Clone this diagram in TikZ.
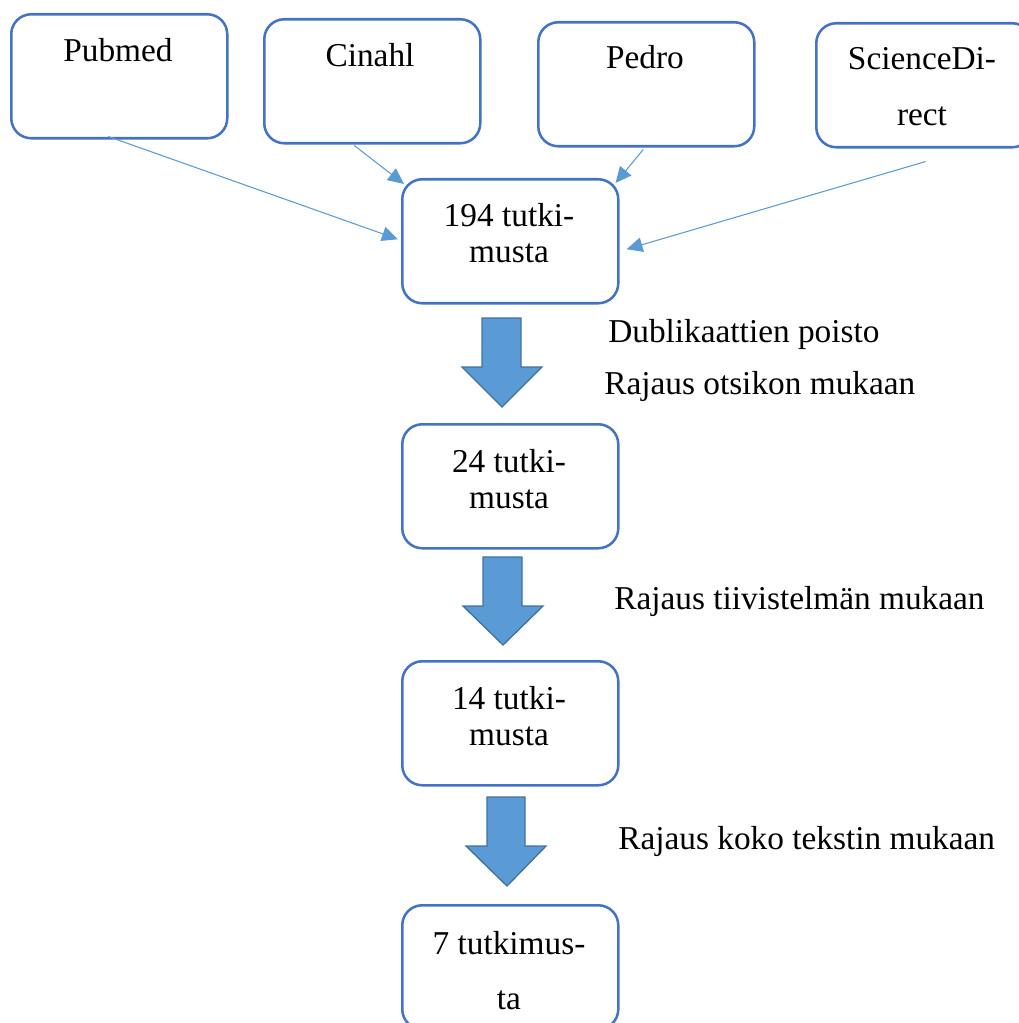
\documentclass[tikz,border=0pt]{standalone}
\usepackage{fontspec}
\setmainfont{Liberation Serif}
\usetikzlibrary{arrows.meta,calc}
\definecolor{boxblue}{HTML}{4472C4}
\definecolor{lineblue}{HTML}{5B9BD5}
\definecolor{arrowedge}{HTML}{41719C}
\begin{document}
\begin{tikzpicture}[x=0.75pt,y=-0.75pt,
  box/.style={draw=boxblue, line width=1.9pt, rounded corners=15pt, minimum width=162pt, minimum height=93pt, inner sep=0pt, anchor=north west},
  txt/.style={font=\fontsize{25}{30}\selectfont, anchor=base, inner sep=0pt},
  lbl/.style={font=\fontsize{25}{30}\selectfont, anchor=base west, inner sep=0pt},
  conn/.style={draw=lineblue, line width=0.8pt, -{Triangle[length=12pt,width=11pt]}},
  barrow/.style={fill=lineblue, draw=arrowedge, line width=1pt, line join=miter}]
\useasboundingbox (0,0) rectangle (1019,1023);
\begin{scope}
\clip (0,0) rectangle (1019,1023);
% boxes
\node[box] (pub) at (10,13) {};
\node[box] (cin) at (263,18) {};
\node[box] (ped) at (537,21) {};
\node[box] (sd) at (815,22) {};
\node[box] (b194) at (401,178) {};
\node[box] (b24) at (401,423) {};
\node[box] (b14) at (401,660) {};
\node[box] (b7) at (401,904) {};
% box texts
\node[txt] (tpub) at (118,62) {Pubmed};
\node[txt] (tcin) at (370,67) {Cinahl};
\node[txt] (tped) at (645,69) {Pedro};
\node[txt] (tsda) at (922,70) {ScienceDi-};
\node[txt] (tsdb) at (922,126) {rect};
\node[txt] (t194a) at (509,227) {194 tutki-};
\node[txt] (t194b) at (509,263) {musta};
\node[txt] (t24a) at (509,472) {24 tutki-};
\node[txt] (t24b) at (509,508) {musta};
\node[txt] (t14a) at (509,709) {14 tutki-};
\node[txt] (t14b) at (509,745) {musta};
\node[txt] (t7a) at (509,954) {7 tutkimus-};
\node[txt] (t7b) at (509,1009) {ta};
% side labels
\node[lbl] (l1) at (608,342) {Dublikaattien poisto};
\node[lbl] (l2) at (604,394) {Rajaus otsikon mukaan};
\node[lbl] (l3) at (614,609) {Rajaus tiivistelmän mukaan};
\node[lbl] (l4) at (618,849) {Rajaus koko tekstin mukaan};
% connectors
\draw[conn] ([xshift=-8.25pt,yshift=2.25pt]pub.south) -- ([xshift=-2.25pt,yshift=1.5pt]b194.west);
\draw[conn] ([xshift=-13.5pt,yshift=-0.75pt]cin.south) -- ([xshift=2.25pt,yshift=-4.5pt]b194.north west);
\draw[conn] ([xshift=-2.25pt,yshift=-1.5pt]ped.south) -- ([xshift=-3pt,yshift=-3.75pt]b194.north east);
\draw[conn] ([xshift=1pt,yshift=-9.75pt]sd.south) -- ([xshift=5.25pt,yshift=-6pt]b194.east);
% block arrows
\draw[barrow] (482,318) -- (521,318) -- (521,367) -- (542,367) -- (502,407) -- (462,367) -- (482,367) -- cycle;
\draw[barrow] (483,557) -- (522,557) -- (522,606) -- (543,606) -- (503,645) -- (463,606) -- (483,606) -- cycle;
\draw[barrow] (487,797) -- (525,797) -- (525,846) -- (546,846) -- (507,886) -- (466,846) -- (487,846) -- cycle;
\end{scope}
\end{tikzpicture}
\end{document}
